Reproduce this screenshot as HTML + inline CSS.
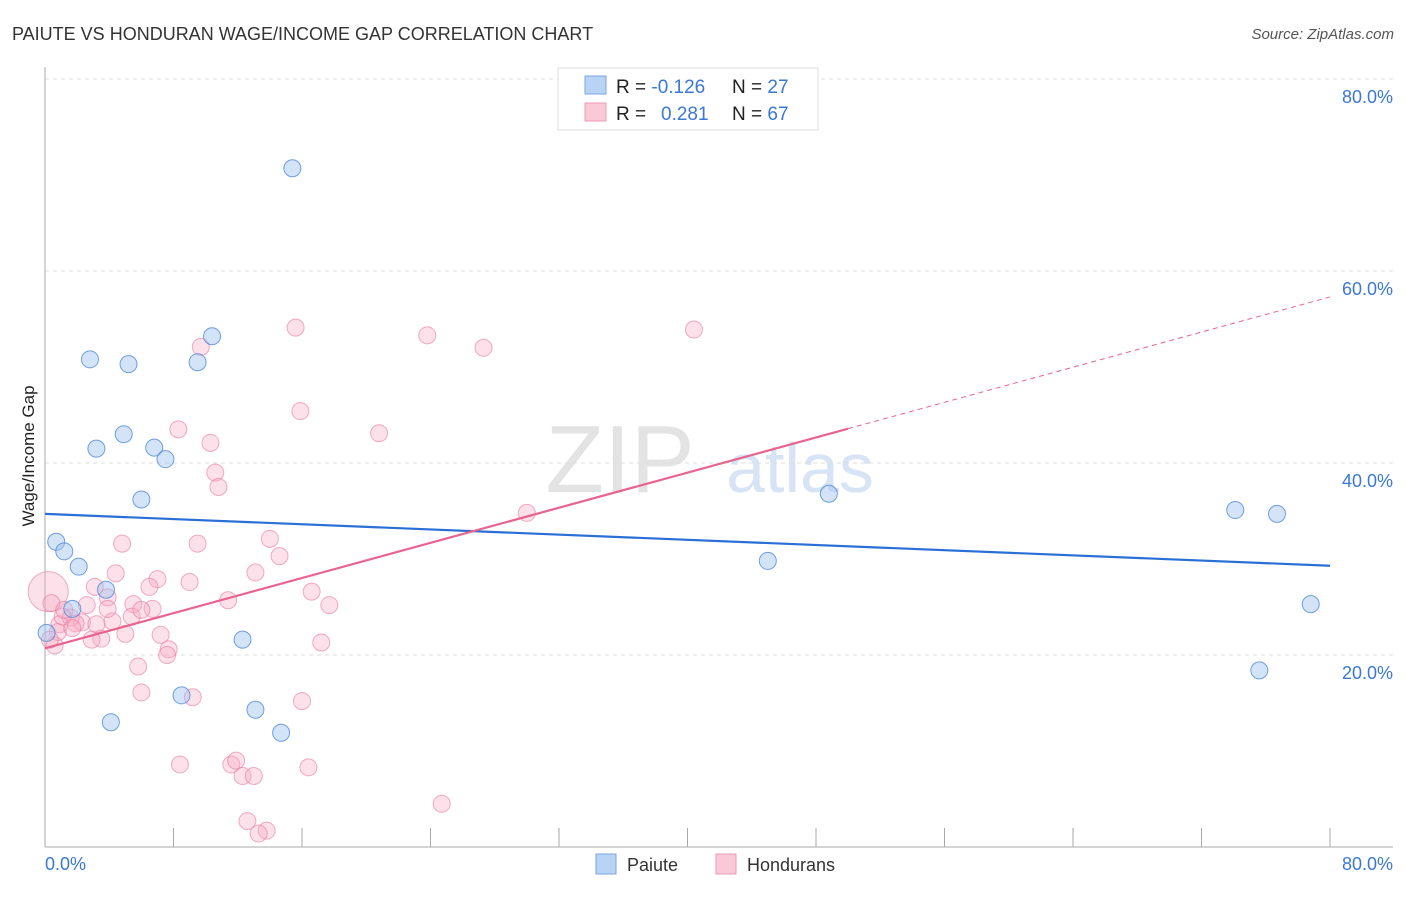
<!DOCTYPE html>
<html><head><meta charset="utf-8">
<style>
body{margin:0;background:#fff;font-family:"Liberation Sans",sans-serif;}
svg text{font-family:"Liberation Sans",sans-serif;}
</style></head>
<body>
<svg id="chart" width="1406" height="892" viewBox="0 0 1406 892">
<text x="12" y="40" font-size="18" fill="#333">PAIUTE VS HONDURAN WAGE/INCOME GAP CORRELATION CHART</text>
<text x="1394" y="39" font-size="15" fill="#555" font-style="italic" text-anchor="end">Source: ZipAtlas.com</text>
<text x="620" y="492" font-size="96" font-family="Liberation Serif" fill="#e3e3e3" text-anchor="middle">ZIP</text>
<text x="800" y="492" font-size="70" fill="#d6e4f5" text-anchor="middle">atlas</text>
<g id="grid"></g>
<g id="axes"></g>
<g id="points"></g>
<g id="lines"></g>
<text transform="translate(34,456) rotate(-90)" font-size="17" fill="#222" text-anchor="middle">Wage/Income Gap</text>
<text x="45" y="870" font-size="18" fill="#3a78d4">0.0%</text>
<text x="1393" y="870" font-size="18" fill="#3a78d4" text-anchor="end">80.0%</text>
<g>
<rect x="558" y="68" width="260" height="62" fill="#fff" stroke="#ddd"/>
<rect x="585" y="76" width="21" height="18" fill="#b9d3f5" stroke="#7aa5e0"/>
<rect x="585" y="103" width="21" height="18" fill="#f9c9d7" stroke="#ee9bb5"/>
<text x="616" y="93" font-size="19" fill="#222">R = <tspan fill="#3a78d4">-0.126</tspan></text>
<text x="732" y="93" font-size="19" fill="#222">N = <tspan fill="#3a78d4">27</tspan></text>
<text x="616" y="120" font-size="19" fill="#222">R = <tspan fill="#3a78d4" x="661">0.281</tspan></text>
<text x="732" y="120" font-size="19" fill="#222">N = <tspan fill="#3a78d4">67</tspan></text>
</g>
<g>
<rect x="596" y="854" width="20" height="20" fill="#b9d3f5" stroke="#7aa5e0"/>
<text x="627" y="871" font-size="18" fill="#333">Paiute</text>
<rect x="716" y="854" width="20" height="20" fill="#f9c9d7" stroke="#ee9bb5"/>
<text x="747" y="871" font-size="18" fill="#333">Hondurans</text>
</g>
</svg>
<script>
const yTicks=[20,40,60,80];
const yTickLabels=["20.0%","40.0%","60.0%","80.0%"];
const xTicks=[0,8,16,24,32,40,48,56,64,72,80];
const paiuteX=[15.4,10.4,2.8,5.2,9.5,3.2,4.9,6.8,7.5,6.0,48.8,74.1,76.7,78.8,45.0,0.7,1.2,2.1,3.8,1.7,0.1,12.3,8.5,4.1,13.1,14.7,75.6];
const paiuteY=[70.7,53.2,50.8,50.3,50.5,41.5,43.0,41.6,40.4,36.2,36.8,35.1,34.7,25.3,29.8,31.8,30.8,29.2,26.8,24.8,22.3,21.6,15.8,13.0,14.3,11.9,18.4];
const hondX=[15.6,23.8,27.3,40.4,9.7,15.9,20.8,8.3,10.3,10.6,10.8,30.0,4.8,9.5,14.0,14.6,4.4,7.0,9.0,3.1,6.5,16.6,17.7,13.1,11.4,3.9,5.5,6.7,0.2,0.4,2.6,5.4,2.3,1.6,0.9,1.9,3.2,4.2,3.5,2.9,5.0,7.2,17.2,0.6,7.7,7.6,5.8,6.0,9.2,16.0,8.4,11.6,11.9,12.3,13.0,16.4,24.7,12.6,13.8,13.3,0.8,3.9,1.1,1.7,0.3,6.0,1.2];
const hondY=[54.1,53.3,52.0,53.9,52.1,45.4,43.1,43.5,42.1,39.0,37.5,34.8,31.6,31.6,32.1,30.3,28.5,27.9,27.6,27.1,27.1,26.6,25.2,28.6,25.7,26.0,25.3,24.8,26.6,25.4,25.2,24.0,23.4,23.9,23.2,23.3,23.2,23.5,21.7,21.6,22.2,22.1,21.3,21.0,20.6,20.0,18.8,16.1,15.6,15.2,8.6,8.6,9.0,7.4,7.4,8.3,4.5,2.7,1.7,1.4,22.4,24.8,24.0,22.8,21.6,24.7,24.7];
const paiuteTrend=[34.7,29.3];
const hondTrend=[20.7,57.3];
const hondSolidEnd=50;

const NS="http://www.w3.org/2000/svg";
function sx(v){return 45+v*1285/80;}
function sy(v){return 847-v*9.6;}
function mk(tag,attrs,parent){const e=document.createElementNS(NS,tag);for(const k in attrs)e.setAttribute(k,attrs[k]);parent.appendChild(e);return e;}
const grid=document.getElementById('grid'),axes=document.getElementById('axes'),pts=document.getElementById('points'),lines=document.getElementById('lines');
yTicks.forEach((t,i)=>{
  const l=mk('line',{x1:45,x2:1393,y1:sy(t),y2:sy(t),stroke:'#ddd','stroke-dasharray':'4,4'},grid);
  
  
  const tx=mk('text',{x:1393,y:sy(t)+24,'font-size':18,fill:'#3a78d4','text-anchor':'end'},grid);
  tx.textContent=yTickLabels[i];
  
  
});
const ya=mk('line',{x1:45,x2:45,y1:67,y2:847,stroke:'#aaa'},axes);


const xa=mk('line',{x1:45,x2:1393,y1:847,y2:847,stroke:'#aaa'},axes);


xTicks.forEach(t=>{
  const l=mk('line',{x1:sx(t),x2:sx(t),y1:828,y2:847,stroke:'#aaa'},axes);
  
  
});
hondX.forEach((x,i)=>{
  const c=mk('circle',{cx:sx(x),cy:sy(hondY[i]),r:i===28?20:8.5,fill:'rgba(246,170,195,0.35)',stroke:'rgba(232,120,155,0.6)','stroke-width':1},pts);
  
  
});
paiuteX.forEach((x,i)=>{
  const c=mk('circle',{cx:sx(x),cy:sy(paiuteY[i]),r:8.5,fill:'rgba(160,195,240,0.45)',stroke:'rgba(70,130,215,0.75)','stroke-width':1},pts);
  
  
});
const bl=mk('line',{x1:sx(0),y1:sy(paiuteTrend[0]),x2:sx(80),y2:sy(paiuteTrend[1]),stroke:'#2a6fd6','stroke-width':2.2},lines);


const ym=hondTrend[0]+(hondTrend[1]-hondTrend[0])*hondSolidEnd/80;
const pl=mk('line',{x1:sx(0),y1:sy(hondTrend[0]),x2:sx(hondSolidEnd),y2:sy(ym),stroke:'#e8648f','stroke-width':2.2},lines);


const pd=mk('line',{x1:sx(hondSolidEnd),y1:sy(ym),x2:sx(80),y2:sy(hondTrend[1]),stroke:'#e8648f','stroke-width':1,'stroke-dasharray':'5,4'},lines);


</script>
</body></html>
